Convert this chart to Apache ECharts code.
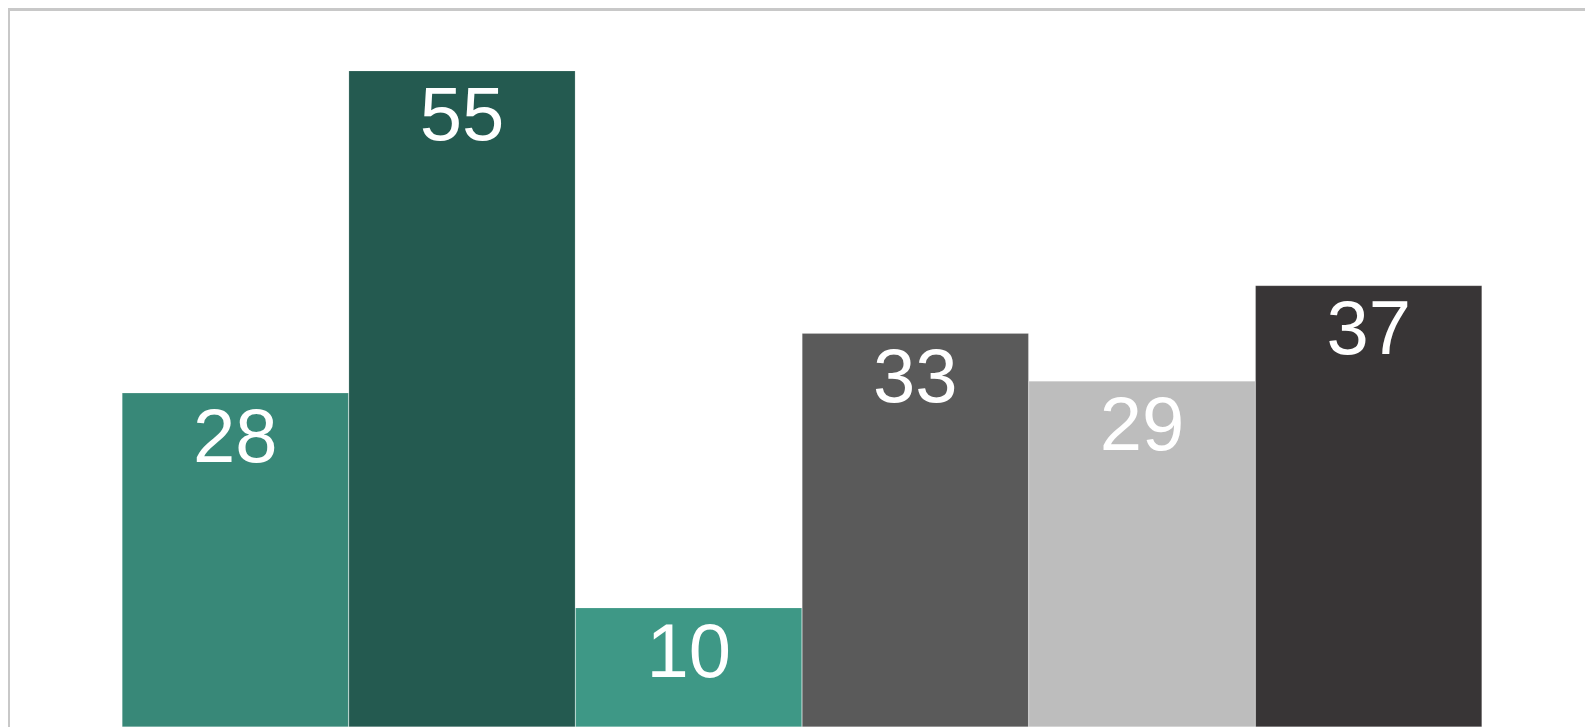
<!DOCTYPE html>
<html>
<head>
<meta charset="utf-8">
<script src="https://cdn.jsdelivr.net/npm/echarts@6/dist/echarts.min.js"></script>
<style>
  html, body { margin: 0; padding: 0; background: #fff; }
  #frame {
    position: absolute; left: 8px; top: 8px; right: 0; bottom: 0;
    border-top: 3px solid #c8c8c8; border-left: 2px solid #c8c8c8;
  }
  #chart { position: absolute; left: 0; top: 0; width: 1585px; height: 727px; }
</style>
</head>
<body>
<div id="frame"></div>
<div id="chart"></div>
<script>
// bar data, left to right
var categories = ['A', 'B', 'C', 'D', 'E', 'F'];
var values = [28, 55, 10, 33, 29, 37];
var barColors = ['#388878', '#245a50', '#3e9886', '#5a5a5a', '#bdbdbd', '#383536'];

var chart = echarts.init(document.getElementById('chart'), null, { renderer: 'canvas' });

chart.setOption({
    animation: false,
    grid: { left: 122, right: 103, top: 11, bottom: -2 },
    xAxis: {
        type: 'category',
        data: categories,
        show: false
    },
    yAxis: {
        type: 'value',
        min: 0,
        max: 60,
        show: false
    },
    series: [{
        type: 'bar',
        barCategoryGap: 0,
        data: values.map(function (v, i) {
            return { value: v, itemStyle: { color: barColors[i] } };
        }),
        itemStyle: { borderColor: 'rgba(255,255,255,0.35)', borderWidth: 0.5 },
        label: {
            show: true,
            position: 'insideTop',
            distance: 10,
            color: '#fff',
            fontSize: 76,
            fontFamily: 'Liberation Sans, Arial, sans-serif'
        }
    }]
});
</script>
</body>
</html>
